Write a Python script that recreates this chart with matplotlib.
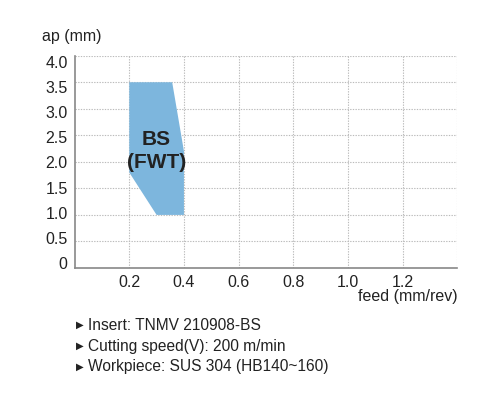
import matplotlib
matplotlib.use("Agg")
import matplotlib.pyplot as plt
from matplotlib import font_manager
from matplotlib.transforms import ScaledTranslation

# Data
region_feed = [0.2, 0.357, 0.4, 0.4, 0.3, 0.2]
region_ap = [3.5, 3.5, 2.2, 1.0, 1.0, 1.8]
region_label = "BS\n(FWT)"
x_ticks = [0.2, 0.4, 0.6, 0.8, 1.0, 1.2, 1.4]
x_tick_labels = ["0.2", "0.4", "0.6", "0.8", "1.0", "1.2", ""]
y_ticks = [0, 0.5, 1.0, 1.5, 2.0, 2.5, 3.0, 3.5, 4.0]
y_tick_labels = ["0", "0.5", "1.0", "1.5", "2.0", "2.5", "3.0", "3.5", "4.0"]
notes = ["Insert: TNMV 210908-BS",
         "Cutting speed(V): 200 m/min",
         "Workpiece: SUS 304 (HB140~160)"]

names = {f.name for f in font_manager.fontManager.ttflist}
fam = "Liberation Sans Narrow" if "Liberation Sans Narrow" in names else "Liberation Sans"
plt.rcParams['font.family'] = [fam, 'DejaVu Sans']

W, H = 495, 394
fig = plt.figure(figsize=(W/100, H/100), dpi=100)
L, R, T, B = 74.6, 457.3, 55.7, 268
ax = fig.add_axes([L/W, 1-B/H, (R-L)/W, (B-T)/H])
ax.set_xlim(0, 1.4)
ax.set_ylim(0, 4.0)

ax.fill(region_feed, region_ap, color="#7db6dd", lw=0, zorder=2)
ax.text(0.3, 2.2, region_label, ha="center", va="center", fontsize=15,
        fontweight="bold", color="#222222", linespacing=1.3, zorder=3)

ax.set_xticks(x_ticks)
ax.set_xticklabels(x_tick_labels)
ax.set_yticks(y_ticks)
ax.set_yticklabels(y_tick_labels)
ax.tick_params(length=0, labelsize=11.5, colors="#222222", pad=5)
ax.tick_params(axis="y", pad=5)
ax.grid(True, color="#bbbbbb", linestyle=(0, (1.2, 1.2)), linewidth=0.8, zorder=0)
ax.set_axisbelow(True)
for s in ["top", "right"]:
    ax.spines[s].set_visible(False)
for s in ["left", "bottom"]:
    ax.spines[s].set_color("#888888")
    ax.spines[s].set_linewidth(1.2)
    ax.spines[s].set_zorder(4)

# the reference's y labels sit slightly off their gridlines (lower at top, higher at bottom)
for lab, v in zip(ax.get_yticklabels(), y_ticks):
    dy = -(6.3 - 11.3 * (4.0 - v) / 4.0) / 100.0
    lab.set_transform(lab.get_transform() + ScaledTranslation(0, dy, fig.dpi_scale_trans))

fig.text(42/W, 1-36/H, "ap (mm)", ha="left", va="center", fontsize=11.5, color="#222222")
fig.text(R/W, 1-297/H, "feed (mm/rev)", ha="right", va="center", fontsize=11.5, color="#222222")

ys = [325, 346, 367]
for y, t in zip(ys, notes):
    fig.text(75.5/W, 1-y/H, "\u25B6", ha="left", va="center", fontsize=7.2,
             color="#222222", family=["DejaVu Sans"])
    fig.text(88/W, 1-y/H, t, ha="left", va="center", fontsize=11.2, color="#222222")

fig.savefig("out.png", dpi=100)
